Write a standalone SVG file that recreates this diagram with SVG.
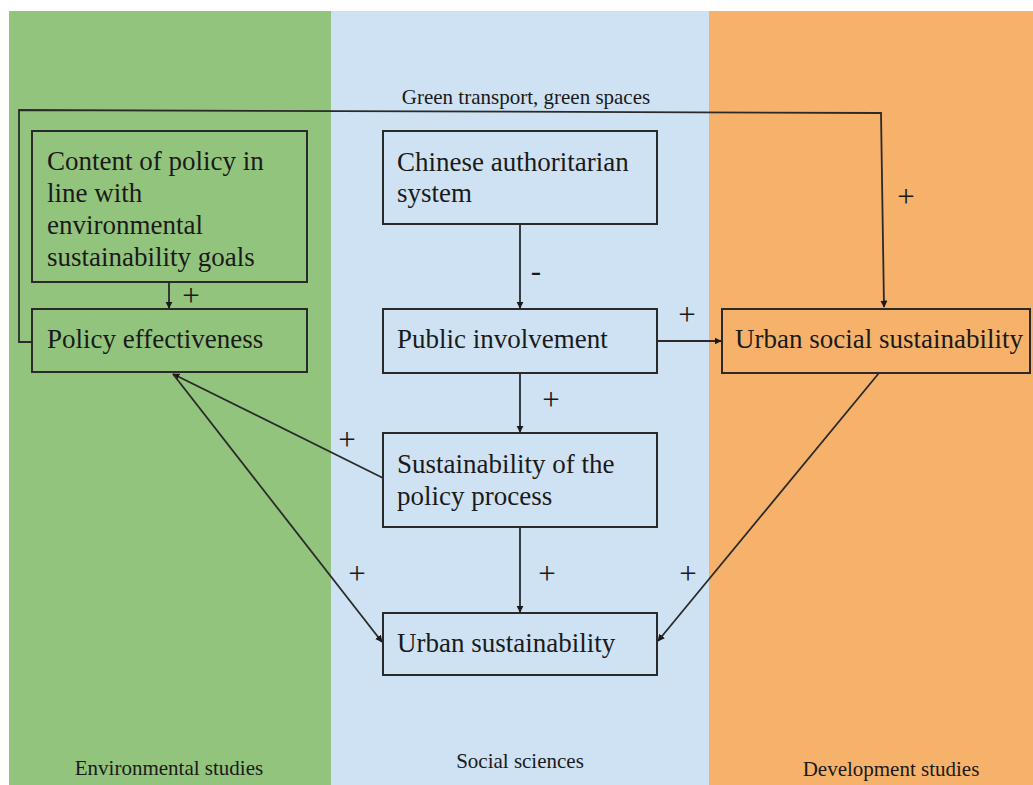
<svg xmlns="http://www.w3.org/2000/svg" width="1033" height="785" viewBox="0 0 1033 785">
  <style>
    .box { fill: none; stroke: #2a2a2a; stroke-width: 2; }
    .lbl { font-family: "Liberation Serif", "Times New Roman", serif; font-size: 27px; fill: #1a1a1a; }
    .sign { font-family: "Liberation Serif", "Times New Roman", serif; font-size: 31px; fill: #1a1a1a; }
    .band { font-family: "Liberation Serif", "Times New Roman", serif; font-size: 21px; fill: #1a1a1a; }
    .edge { fill: none; stroke: #2a2a2a; stroke-width: 1.8; }
  </style>
  <defs>
    <marker id="arrow" viewBox="0 0 10 10" refX="9" refY="5" markerWidth="4" markerHeight="4" orient="auto-start-reverse" markerUnits="strokeWidth">
      <path d="M0,0 L10,5 L0,10 z" fill="#1a1a1a"/>
    </marker>
  </defs>

  <!-- discipline bands -->
  <g id="bands">
    <rect x="0" y="0" width="1033" height="785" fill="#ffffff"/>
    <rect x="9" y="11" width="322" height="774" fill="#93c47d"/>
    <rect x="331" y="11" width="378" height="774" fill="#cfe2f3"/>
    <rect x="709" y="11" width="324" height="774" fill="#f6b26b"/>
    <text class="band" x="169" y="775" text-anchor="middle">Environmental studies</text>
    <text class="band" x="520" y="768" text-anchor="middle">Social sciences</text>
    <text class="band" x="891" y="776" text-anchor="middle">Development studies</text>
  </g>

  <!-- connectors -->
  <g id="connectors">
    <path class="edge" d="M32,342 L19,342 L19,110 L881,113 L884,307" marker-end="url(#arrow)"/>
    <text class="band" x="526" y="104" text-anchor="middle" font-size="21.5">Green transport, green spaces</text>
    <text class="sign" x="906" y="207" text-anchor="middle">+</text>

    <path class="edge" d="M169,282 L169,308" marker-end="url(#arrow)"/>
    <text class="sign" x="191" y="306" text-anchor="middle">+</text>

    <path class="edge" d="M520,224 L520,308" marker-end="url(#arrow)"/>
    <text class="sign" x="536" y="281" text-anchor="middle">-</text>

    <path class="edge" d="M657,341 L721,341" marker-end="url(#arrow)"/>
    <text class="sign" x="687" y="325" text-anchor="middle">+</text>

    <path class="edge" d="M520,373 L520,432" marker-end="url(#arrow)"/>
    <text class="sign" x="551" y="410" text-anchor="middle">+</text>

    <path class="edge" d="M520,527 L520,612" marker-end="url(#arrow)"/>
    <text class="sign" x="547" y="584" text-anchor="middle">+</text>

    <path class="edge" d="M383,478 L173,374" marker-end="url(#arrow)"/>
    <text class="sign" x="347" y="450" text-anchor="middle">+</text>

    <path class="edge" d="M173,374 L382,642" marker-end="url(#arrow)"/>
    <text class="sign" x="357" y="584" text-anchor="middle">+</text>

    <path class="edge" d="M879,373 L658,641" marker-end="url(#arrow)"/>
    <text class="sign" x="688" y="584" text-anchor="middle">+</text>
  </g>

  <!-- nodes -->
  <g id="content-of-policy">
    <rect class="box" x="32" y="131" width="275" height="151"/>
    <text class="lbl" x="47" y="170">Content of policy in</text>
    <text class="lbl" x="47" y="202">line with</text>
    <text class="lbl" x="47" y="234">environmental</text>
    <text class="lbl" x="47" y="266">sustainability goals</text>
  </g>

  <g id="policy-effectiveness">
    <rect class="box" x="32" y="309" width="275" height="63"/>
    <text class="lbl" x="47" y="348">Policy effectiveness</text>
  </g>

  <g id="chinese-authoritarian-system">
    <rect class="box" x="383" y="131" width="274" height="93"/>
    <text class="lbl" x="397" y="171">Chinese authoritarian</text>
    <text class="lbl" x="397" y="202">system</text>
  </g>

  <g id="public-involvement">
    <rect class="box" x="383" y="309" width="274" height="64"/>
    <text class="lbl" x="397" y="348">Public involvement</text>
  </g>

  <g id="urban-social-sustainability">
    <rect class="box" x="722" y="309" width="308" height="64"/>
    <text class="lbl" x="735" y="348">Urban social sustainability</text>
  </g>

  <g id="policy-process-sustainability">
    <rect class="box" x="383" y="433" width="274" height="94"/>
    <text class="lbl" x="397" y="473">Sustainability of the</text>
    <text class="lbl" x="397" y="505">policy process</text>
  </g>

  <g id="urban-sustainability">
    <rect class="box" x="383" y="613" width="274" height="62"/>
    <text class="lbl" x="397" y="652">Urban sustainability</text>
  </g>
</svg>
